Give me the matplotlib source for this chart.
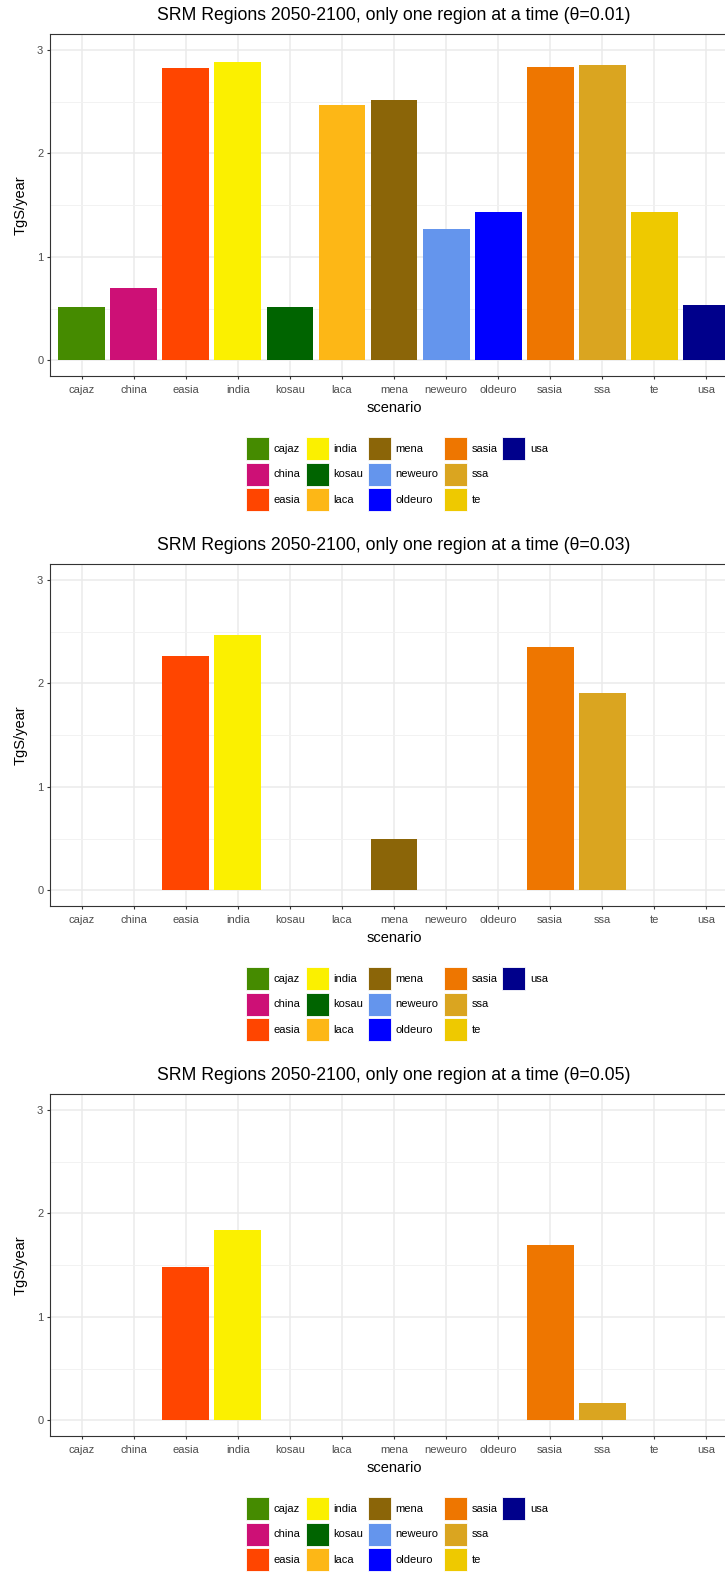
import matplotlib
matplotlib.use("Agg")
import matplotlib.pyplot as plt
from matplotlib.patches import Rectangle
from matplotlib.ticker import FixedLocator

plt.rcParams['font.family'] = ['Liberation Sans', 'DejaVu Sans']

regions = ["cajaz", "china", "easia", "india", "kosau", "laca", "mena",
           "neweuro", "oldeuro", "sasia", "ssa", "te", "usa"]
colors = ["#458B00", "#CD1076", "#FF4500", "#FBF000", "#006400", "#FDB716",
          "#8B6508", "#6495ED", "#0000FF", "#EE7600", "#DAA520", "#EEC900",
          "#00008B"]
thetas = ["0.01", "0.03", "0.05"]
values_001 = [0.52, 0.70, 2.82, 2.88, 0.52, 2.47, 2.52, 1.265, 1.43, 2.835, 2.85, 1.43, 0.54]
values_003 = [0, 0, 2.26, 2.47, 0, 0, 0.495, 0, 0, 2.347, 1.907, 0, 0]
values_005 = [0, 0, 1.484, 1.837, 0, 0, 0, 0, 0, 1.691, 0.168, 0, 0]
all_values = [values_001, values_003, values_005]

W, H = 725, 1577
fig = plt.figure(figsize=(W / 100, H / 100), dpi=100)

def fx(x):
    return x / W

def fy(y):
    return 1 - y / H

AX_L, AX_R = 50.5, 737.6
AX_T, AX_B = 34.3, 376.0
OFF = 530.0
xpos = list(range(1, len(regions) + 1))

for k, (theta, vals) in enumerate(zip(thetas, all_values)):
    o = OFF * k
    ax = fig.add_axes([fx(AX_L), fy(AX_B + o), fx(AX_R) - fx(AX_L),
                       fy(AX_T + o) - fy(AX_B + o)])
    ax.bar(xpos, vals, width=0.9, color=colors, linewidth=0, zorder=3)
    ax.set_xlim(0.4, len(regions) + 0.6)
    ax.set_ylim(-0.15, 3.15)
    ax.set_xticks(xpos)
    ax.set_xticklabels(regions)
    ax.set_yticks([0, 1, 2, 3])
    ax.set_yticklabels(["0", "1", "2", "3"])
    ax.yaxis.set_minor_locator(FixedLocator([0.5, 1.5, 2.5]))
    ax.grid(True, which='major', color='#EBEBEB', linewidth=1.1, zorder=0)
    ax.grid(True, which='minor', axis='y', color='#F2F2F2', linewidth=0.7, zorder=0)
    ax.set_axisbelow(True)
    ax.tick_params(axis='both', which='major', length=2.0, width=0.8,
                   color='#333333', labelcolor='#4D4D4D', labelsize=8)
    ax.tick_params(axis='x', which='major', pad=4.6)
    ax.tick_params(axis='y', which='major', pad=3.2)
    ax.tick_params(axis='y', which='minor', length=0)
    for s in ax.spines.values():
        s.set_color('#333333')
        s.set_linewidth(0.8)
    ax.set_xlabel("scenario", fontsize=10.5, labelpad=4)
    ax.set_ylabel("TgS/year", fontsize=10.5)
    ax.yaxis.set_label_coords((27.5 - AX_L) / (AX_R - AX_L), 0.5)
    fig.text(fx(394), fy(15.7 + o), f"SRM Regions 2050-2100, only one region at a time (θ={theta})",
             ha='center', va='center', fontsize=12.7, color='black')

    handles = [Rectangle((0, 0), 1, 1, facecolor=c, edgecolor='white', linewidth=0.6)
               for c in colors]
    labels = list(regions)
    for _ in range(2):
        handles.append(Rectangle((0, 0), 1, 1, facecolor='none', edgecolor='none'))
        labels.append("")
    fig.legend(handles, labels, ncol=5, loc='upper center',
               bbox_to_anchor=(fx(397), fy(437.3 + o)), frameon=False,
               fontsize=8, handlelength=2.07, handleheight=2.81,
               labelspacing=0.21, handletextpad=0.42, columnspacing=0.45,
               borderpad=0, borderaxespad=0)

fig.savefig("out.png", dpi=100)
